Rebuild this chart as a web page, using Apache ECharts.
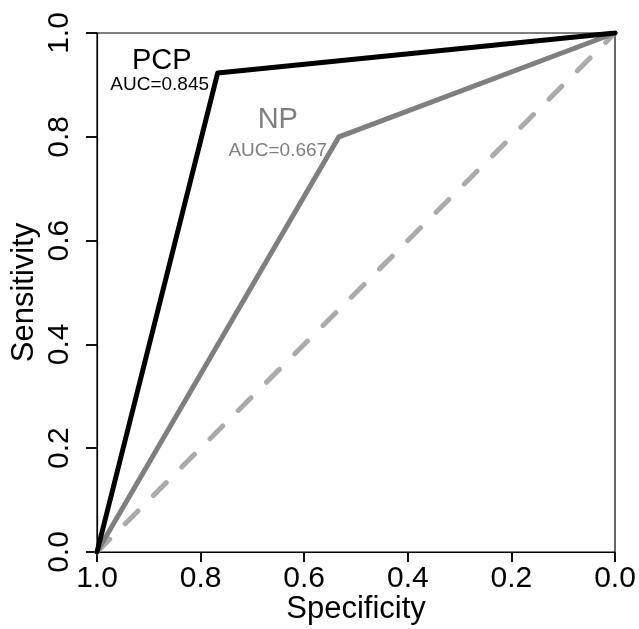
<!DOCTYPE html>
<html>
<head>
<meta charset="utf-8">
<script src="https://cdn.jsdelivr.net/npm/echarts@6/dist/echarts.min.js"></script>
<style>
html,body{margin:0;padding:0;background:#fff;}
#chart{width:639px;height:629px;}
</style>
</head>
<body>
<div id="chart"></div>
<script>
// Data (x = specificity, y = sensitivity)
var tickValues = [0, 0.2, 0.4, 0.6, 0.8, 1.0];
var pcpSpecificity = [1.0, 0.767, 0.0];
var pcpSensitivity = [0.0, 0.923, 1.0];
var npSpecificity = [1.0, 0.533, 0.0];
var npSensitivity = [0.0, 0.800, 1.0];
var refSpecificity = [1.0, 0.0];
var refSensitivity = [0.0, 1.0];
// Annotation text and anchor positions in data units
var annoText = ['PCP', 'AUC=0.845', 'NP', 'AUC=0.667'];
var annoSpec = [0.875, 0.879, 0.651, 0.651];
var annoSens = [0.947, 0.901, 0.833, 0.774];

var FONT = 'Liberation Sans, Arial, Helvetica, sans-serif';
function zip(a, b) { return a.map(function (v, i) { return [v, b[i]]; }); }

var annoStyles = [
  { fontSize: 29, color: '#000000' },
  { fontSize: 19, color: '#000000' },
  { fontSize: 29, color: '#7f7f7f' },
  { fontSize: 19, color: '#7f7f7f' }
];
var annoData = annoText.map(function (t, i) {
  return {
    value: [annoSpec[i], annoSens[i]],
    label: {
      show: true, formatter: t, position: 'inside',
      fontSize: annoStyles[i].fontSize, color: annoStyles[i].color,
      fontFamily: FONT, textBorderWidth: 0, textBorderColor: 'transparent',
      textShadowBlur: 0, opacity: 1
    }
  };
});

var chart = echarts.init(document.getElementById('chart'), null, { renderer: 'canvas' });
chart.setOption({
  animation: false,
  backgroundColor: '#ffffff',
  grid: {
    left: 97, right: 24, top: 33, bottom: 77,
    containLabel: false, outerBoundsMode: 'none',
    show: true, borderColor: '#000000', borderWidth: 1.2, backgroundColor: 'transparent'
  },
  xAxis: {
    type: 'value', min: 0, max: 1, interval: 0.2, inverse: true, position: 'bottom',
    name: 'Specificity', nameLocation: 'middle', nameGap: 42, nameMoveOverlap: false,
    nameTextStyle: { fontSize: 31, color: '#000', fontFamily: FONT },
    axisLine: { show: true, onZero: false, lineStyle: { color: '#000', width: 1.2 } },
    axisTick: { show: true, inside: false, length: 10, lineStyle: { color: '#111111', width: 2 } },
    axisLabel: {
      fontSize: 30, color: '#000', fontFamily: FONT, margin: 12,
      formatter: function (v) { return v.toFixed(1); }
    },
    splitLine: { show: false }
  },
  yAxis: {
    type: 'value', min: 0, max: 1, interval: 0.2, position: 'left',
    name: 'Sensitivity', nameLocation: 'middle', nameGap: 57, nameMoveOverlap: false,
    nameTextStyle: { fontSize: 31, color: '#000', fontFamily: FONT },
    axisLine: { show: true, onZero: false, lineStyle: { color: '#000', width: 1.2 } },
    axisTick: { show: true, inside: false, length: 11, lineStyle: { color: '#111111', width: 2 } },
    axisLabel: {
      fontSize: 30, color: '#000', fontFamily: FONT, rotate: 90, margin: 22,
      formatter: function (v) { return v.toFixed(1); }
    },
    splitLine: { show: false }
  },
  series: [
    {
      name: 'Reference', type: 'line', data: zip(refSpecificity, refSensitivity),
      symbol: 'none', z: 1,
      lineStyle: { color: '#ababab', width: 5, type: [18, 22], cap: 'round' }
    },
    {
      name: 'NP', type: 'line', data: zip(npSpecificity, npSensitivity),
      symbol: 'none', z: 2,
      lineStyle: { color: '#7f7f7f', width: 5, cap: 'round', join: 'round' }
    },
    {
      name: 'PCP', type: 'line', data: zip(pcpSpecificity, pcpSensitivity),
      symbol: 'none', z: 3,
      lineStyle: { color: '#000000', width: 5, cap: 'round', join: 'round' }
    },
    {
      name: 'labels', type: 'scatter', data: annoData, symbolSize: 0, z: 4,
      silent: true
    }
  ]
});
</script>
</body>
</html>
